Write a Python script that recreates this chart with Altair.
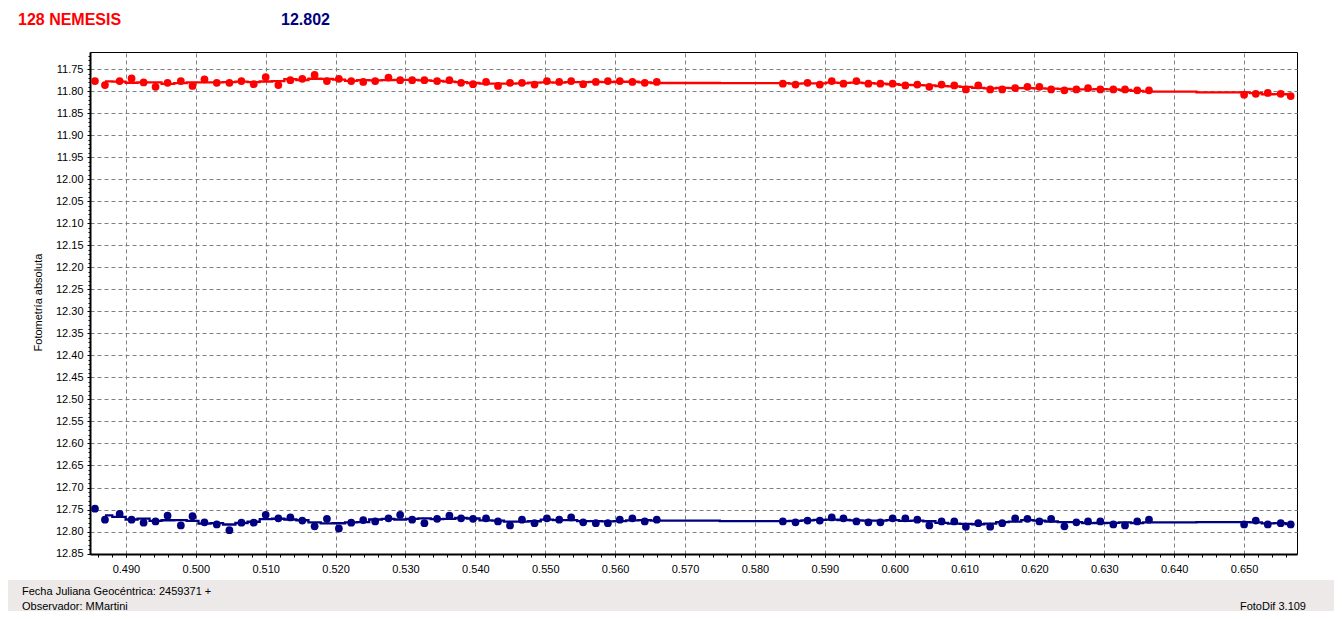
import altair as alt
import pandas as pd

# ---- data ----
times = [
    0.48557, 0.48700, 0.48910, 0.49081, 0.49253, 0.49424, 0.49596, 0.49786, 0.49953, 0.50124,
    0.50300, 0.50481, 0.50653, 0.50829, 0.51000, 0.51181, 0.51353, 0.51524, 0.51700, 0.51876,
    0.52047, 0.52224, 0.52396, 0.52567,
    0.52757, 0.52924, 0.53096, 0.53271, 0.53453, 0.53629, 0.53796, 0.53967, 0.54153, 0.54324,
    0.54496, 0.54667, 0.54847, 0.55024, 0.55200, 0.55371, 0.55543, 0.55724, 0.55896, 0.56067,
    0.56247, 0.56424, 0.56596,
    0.58400, 0.58581, 0.58753, 0.58929, 0.59100, 0.59267, 0.59453, 0.59624, 0.59796, 0.59971,
    0.60153, 0.60324, 0.60496, 0.60671, 0.60853, 0.61019, 0.61196, 0.61367, 0.61539,
    0.61724, 0.61900, 0.62071, 0.62239, 0.62429, 0.62600, 0.62767, 0.62943, 0.63129, 0.63296,
    0.63471, 0.63639, 0.65000, 0.65167, 0.65339, 0.65524, 0.65667,
]
red_mag = [
    11.777, 11.786, 11.777, 11.771, 11.780, 11.790, 11.781, 11.777, 11.788, 11.773,
    11.781, 11.781, 11.777, 11.784, 11.768, 11.786, 11.775, 11.772, 11.763, 11.777,
    11.772, 11.777, 11.779, 11.777,
    11.769, 11.775, 11.775, 11.775, 11.777, 11.775, 11.781, 11.784, 11.779, 11.788,
    11.781, 11.781, 11.785, 11.777, 11.779, 11.777, 11.784, 11.779, 11.777, 11.777,
    11.779, 11.781, 11.779,
    11.783, 11.785, 11.781, 11.785, 11.777, 11.783, 11.777, 11.783, 11.783, 11.783,
    11.787, 11.785, 11.790, 11.785, 11.787, 11.796, 11.787, 11.796, 11.796,
    11.793, 11.790, 11.790, 11.796, 11.798, 11.796, 11.793, 11.796, 11.796, 11.796,
    11.798, 11.798, 11.808, 11.806, 11.804, 11.806, 11.811,
]
blue_mag = [
    12.748, 12.773, 12.760, 12.773, 12.780, 12.777, 12.764, 12.786, 12.765, 12.779,
    12.784, 12.797, 12.780, 12.780, 12.762, 12.770, 12.768, 12.775, 12.788, 12.771,
    12.793, 12.780, 12.774, 12.777,
    12.770, 12.762, 12.773, 12.781, 12.771, 12.764, 12.770, 12.771, 12.770, 12.777,
    12.786, 12.773, 12.781, 12.770, 12.773, 12.768, 12.779, 12.781, 12.781, 12.773,
    12.770, 12.777, 12.773,
    12.777, 12.779, 12.775, 12.775, 12.768, 12.770, 12.777, 12.779, 12.779, 12.770,
    12.770, 12.773, 12.786, 12.777, 12.777, 12.789, 12.781, 12.789, 12.781,
    12.770, 12.771, 12.777, 12.771, 12.788, 12.779, 12.777, 12.777, 12.784, 12.786,
    12.777, 12.773, 12.784, 12.775, 12.784, 12.781, 12.784,
]
series_names = ["red", "blue"]
series_colors = ["#FF0000", "#000080"]

x_ticks = [0.49, 0.50, 0.51, 0.52, 0.53, 0.54, 0.55, 0.56, 0.57, 0.58, 0.59,
           0.60, 0.61, 0.62, 0.63, 0.64, 0.65]
y_ticks = [11.75, 11.80, 11.85, 11.90, 11.95, 12.00, 12.05, 12.10, 12.15, 12.20,
           12.25, 12.30, 12.35, 12.40, 12.45, 12.50, 12.55, 12.60, 12.65, 12.70,
           12.75, 12.80, 12.85]
x_minor = [round(0.486 + 0.002 * i, 3) for i in range(86)]
y_minor = [round(11.72 + 0.01 * i, 2) for i in range(114)]

title_name = "128 NEMESIS"
title_value = "12.802"
y_title = "Fotometría absoluta"
footer_left_1 = "Fecha Juliana Geocéntrica: 2459371 +"
footer_left_2 = "Observador: MMartini"
footer_right = "FotoDif 3.109"

rows = []
for name, mags in zip(series_names, [red_mag, blue_mag]):
    for i, (t, m) in enumerate(zip(times, mags)):
        rows.append({"t": t, "mag": m, "series": name, "idx": i})
df = pd.DataFrame(rows)

FONT = "Liberation Sans"
W, H = 1207, 502

xscale = alt.Scale(domain=[0.48486, 0.65757], nice=False, zero=False)
yscale = alt.Scale(domain=[11.711, 12.851], nice=False, zero=False, reverse=True)
cscale = alt.Scale(domain=series_names, range=series_colors)

xaxis = alt.Axis(values=x_ticks, format=".3f", title="", orient="bottom",
                 grid=True, gridDash=[4, 3], gridColor="#808080", gridWidth=1,
                 domainColor="black", domainWidth=2, tickColor="black", tickSize=3,
                 labelFont=FONT, labelFontSize=11, labelColor="black", labelPadding=6,
                 labelFlush=False)
yaxis = alt.Axis(values=y_ticks, format=".2f", title=y_title, orient="left",
                 grid=True, gridDash=[4, 3], gridColor="#808080", gridWidth=1,
                 domainColor="black", domainWidth=2, tickColor="black", tickSize=3,
                 labelFont=FONT, labelFontSize=11, labelColor="black", labelPadding=4,
                 labelFlush=False,
                 titleFont=FONT, titleFontSize=11, titleFontWeight="normal", titleColor="black",
                 titleAngle=-90, titleX=-52, titleY=250, titleAlign="center",
                 titleBaseline="middle")

base = alt.Chart(df)

footer_band = alt.Chart(alt.Data(values=[{}])).mark_rect(color="#ECE9E8").encode(
    x=alt.value(-82), x2=alt.value(1244), y=alt.value(528), y2=alt.value(562)
)

points = base.mark_circle(size=60, opacity=1).encode(
    x=alt.X("t:Q", scale=xscale, axis=xaxis),
    y=alt.Y("mag:Q", scale=yscale, axis=yaxis),
    color=alt.Color("series:N", scale=cscale, legend=None),
)

line = base.transform_window(
    avg="mean(mag)", frame=[-2, 2], groupby=["series"], sort=[alt.SortField("t")]
).transform_filter("datum.idx > 0").mark_line(interpolate="step", strokeWidth=2.3).encode(
    x=alt.X("t:Q", scale=xscale, axis=None),
    y=alt.Y("avg:Q", scale=yscale, axis=None),
    color=alt.Color("series:N", scale=cscale, legend=None),
    detail="series:N",
)

minor = base.mark_point(opacity=0).encode(
    x=alt.X("t:Q", scale=xscale,
            axis=alt.Axis(values=x_minor, orient="bottom", labels=False, grid=False,
                          domain=False, tickColor="black", tickSize=3, title="")),
    y=alt.Y("mag:Q", scale=yscale,
            axis=alt.Axis(values=y_minor, orient="left", labels=False, grid=False,
                          domain=False, tickColor="black", tickSize=2, title="")),
)

def label(text, x, y, size=11, color="black", weight="normal", align="left"):
    return alt.Chart(alt.Data(values=[{}])).mark_text(
        text=text, font=FONT, fontSize=size, color=color, fontWeight=weight,
        align=align, baseline="alphabetic"
    ).encode(x=alt.value(x), y=alt.value(y))

t1 = label(title_name, -72, -27, size=16, color="#FF0000", weight="bold")
t2 = label(title_value, 191, -27, size=16, color="#000080", weight="bold")
f1 = label(footer_left_1, -68, 543)
f2 = label(footer_left_2, -68, 558)
f3 = label(footer_right, 1216, 558, align="right")

chart = alt.layer(footer_band, minor, line, points, t1, t2, f1, f2, f3).resolve_axis(
    x="independent", y="independent"
).properties(
    width=W, height=H,
    autosize=alt.AutoSizeParams(type="none"),
    padding={"left": 82, "top": 44, "right": 37, "bottom": 57},
    background="white",
).configure_view(stroke="black", strokeWidth=1)

chart.save("out.html", embed_options={"renderer": "svg", "actions": False})
